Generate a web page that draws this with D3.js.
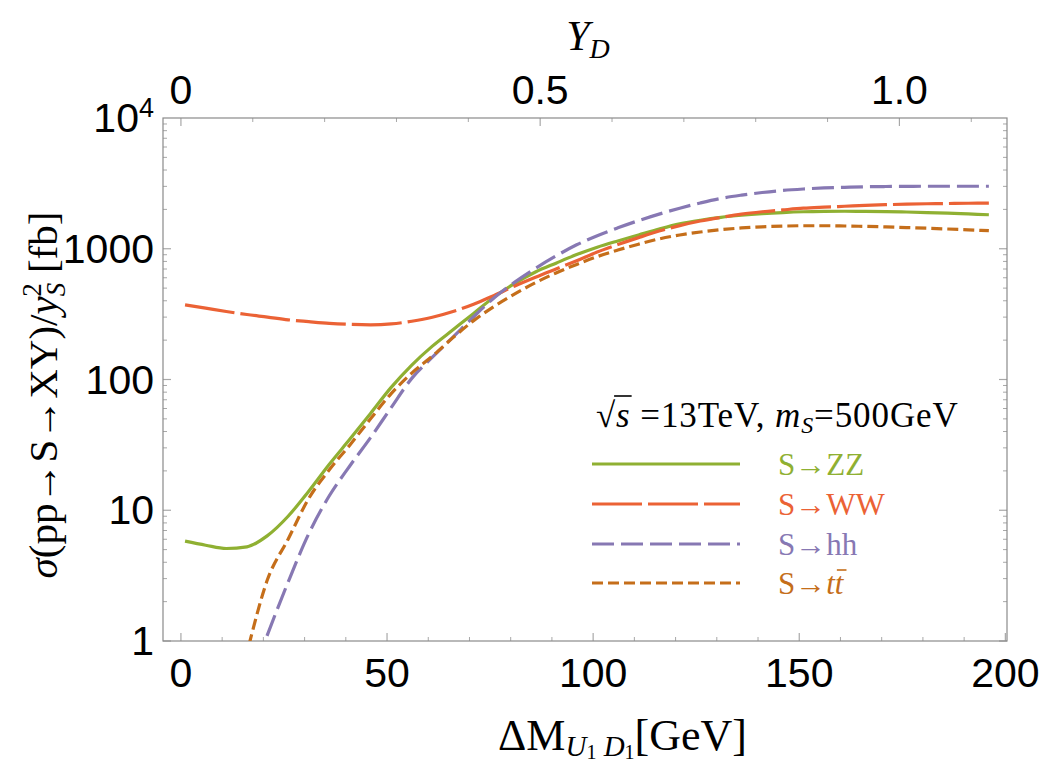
<!DOCTYPE html>
<html>
<head>
<meta charset="utf-8">
<script src="https://cdn.jsdelivr.net/npm/d3@7"></script>
<style>
  html, body { margin: 0; padding: 0; background: #fff; }
  svg { display: block; }
</style>
</head>
<body>
<svg id="chart" width="1042" height="763"></svg>
<script>
// ---------- data ----------
const deltaM = [1, 6, 11, 16, 21, 26, 31, 36, 41, 46, 51, 56, 61, 66, 71, 76, 81, 86, 91, 96,
  101, 106, 111, 116, 121, 126, 131, 136, 141, 146, 151, 156, 161, 166, 171, 176, 181, 186, 191, 196];

const sZZ = [5.8, 5.4, 5.1, 5.25, 6.4, 9.0, 14.0, 22.5, 35, 55, 87, 129, 180, 240, 320, 427, 543, 664, 776, 902,
  1028, 1148, 1274, 1413, 1549, 1652, 1738, 1803, 1854, 1892, 1919, 1932, 1936, 1932, 1923, 1910, 1892, 1871, 1845, 1820];

const sWW = [372, 351, 331, 314, 300, 286, 277, 269, 264, 262, 266, 279, 299, 331, 376, 440, 519, 605, 700, 809,
  944, 1076, 1216, 1365, 1503, 1629, 1738, 1841, 1919, 1982, 2042, 2080, 2113, 2148, 2173, 2193, 2208, 2218, 2228, 2234];

const sHH = [null, null, null, 0.42, 1.12, 2.82, 6.6, 12.9, 21.9, 35.9, 61, 102, 148, 211, 302, 422, 556, 708, 881, 1072,
  1259, 1445, 1641, 1841, 2042, 2239, 2427, 2570, 2692, 2793, 2864, 2917, 2951, 2979, 2992, 2999, 3006, 3006, 3006, 3006];

const sTT = [null, null, 0.18, 0.81, 2.95, 6.0, 12.3, 20.4, 31.6, 50, 78, 112, 151, 209, 282, 363, 452, 550, 653, 759,
  871, 977, 1084, 1189, 1274, 1343, 1400, 1442, 1472, 1489, 1500, 1500, 1493, 1483, 1469, 1452, 1435, 1416, 1396, 1374];

const seriesNames = ["ZZ", "WW", "hh", "tt"];
const seriesValues = [sZZ, sWW, sHH, sTT];
const seriesColors = ["#8FB032", "#EB6235", "#8778B3", "#C56E1A"];
const seriesDash = [null, "50,6", "22,7", "11,5"];

const xTicksMajor = [0, 50, 100, 150, 200];
const yTicksMajor = [1, 10, 100, 1000, 10000];
const yTickLabels = ["1", "10", "100", "1000", "10^4"];
const topTicksMajor = [0, 0.5, 1.0];
const topTickLabels = ["0", "0.5", "1.0"];
const ydToDeltaM = 174.3;   // Y_D = 1 corresponds to this ΔM on the shared axis

// ---------- layout ----------
const svg = d3.select("#chart");
const L = 163, R = 1007, T = 118, B = 641;
const x = d3.scaleLinear().domain([-4.35, 200.4]).range([L, R]);
const y = d3.scaleLog().domain([1, 1e4]).range([B, T]);
const xt = d3.scaleLinear().domain([0, 1]).range([x(0), x(ydToDeltaM)]);

const frameColor = "#8a8a8a", tickColor = "#a8a8a8";
const sans = "'Liberation Sans', Arial, sans-serif";
const serif = "'Liberation Serif', 'Times New Roman', serif";
const tickFont = 41;

svg.append("defs").append("clipPath").attr("id", "clip")
  .append("rect").attr("x", L).attr("y", T).attr("width", R - L).attr("height", B - T);

// ---------- ticks ----------
const g = svg.append("g");
d3.range(0, 201, 10).forEach(v => {
  const major = xTicksMajor.includes(v);
  g.append("line").attr("x1", x(v)).attr("x2", x(v)).attr("y1", B).attr("y2", B - (major ? 8 : 4))
    .attr("stroke", tickColor).attr("stroke-width", major ? 1.2 : 1);
});
d3.range(0, 1.15, 0.1).forEach(v => {
  const major = topTicksMajor.some(m => Math.abs(m - v) < 1e-6);
  g.append("line").attr("x1", xt(v)).attr("x2", xt(v)).attr("y1", T).attr("y2", T + (major ? 8 : 4))
    .attr("stroke", tickColor).attr("stroke-width", major ? 1.2 : 1);
});
for (let d = 1; d < 1e4; d *= 10) {
  for (let k = 1; k <= 9; k++) {
    const v = d * k, major = k === 1;
    [[L, 1], [R, -1]].forEach(([x0, s]) => {
      g.append("line").attr("x1", x0).attr("x2", x0 + s * (major ? 8 : 4)).attr("y1", y(v)).attr("y2", y(v))
        .attr("stroke", tickColor).attr("stroke-width", major ? 1.2 : 1);
    });
  }
}

svg.append("rect").attr("x", L).attr("y", T).attr("width", R - L).attr("height", B - T)
  .attr("fill", "none").attr("stroke", frameColor).attr("stroke-width", 1.2);

// tick labels
xTicksMajor.forEach(v => {
  svg.append("text").attr("x", x(v)).attr("y", B + 46).attr("text-anchor", "middle")
    .attr("font-family", sans).attr("font-size", tickFont).text(v);
});
topTicksMajor.forEach((v, i) => {
  svg.append("text").attr("x", xt(v)).attr("y", T - 14).attr("text-anchor", "middle")
    .attr("font-family", sans).attr("font-size", tickFont).text(topTickLabels[i]);
});
yTicksMajor.forEach((v, i) => {
  const t = svg.append("text").attr("x", 154).attr("y", y(v) + 14).attr("text-anchor", "end")
    .attr("font-family", sans).attr("font-size", tickFont);
  const lab = yTickLabels[i];
  if (lab.includes("^")) {
    const [b, e] = lab.split("^");
    t.append("tspan").text(b);
    t.append("tspan").attr("font-size", 27).attr("dy", -15).text(e);
  } else t.text(lab);
});

// ---------- curves ----------
const plot = svg.append("g").attr("clip-path", "url(#clip)");
seriesValues.forEach((vals, i) => {
  const pts = deltaM.map((d, j) => [d, vals[j]]).filter(p => p[1] != null);
  const line = d3.line().x(p => x(p[0])).y(p => y(p[1])).curve(d3.curveMonotoneX);
  plot.append("path").datum(pts).attr("d", line)
    .attr("fill", "none").attr("stroke", seriesColors[i]).attr("stroke-width", 3.2)
    .attr("stroke-dasharray", seriesDash[i]);
});

// ---------- axis titles ----------
svg.append("text").attr("x", 588).attr("y", 50).attr("text-anchor", "middle")
  .attr("font-family", serif).attr("font-size", 42).attr("font-style", "italic")
  .call(t => { t.append("tspan").text("Y"); t.append("tspan").attr("font-size", 28).attr("dy", 8).text("D"); });

const xt2 = svg.append("text").attr("x", 498).attr("y", 750).attr("text-anchor", "start")
  .attr("font-family", serif).attr("font-size", 44);
xt2.append("tspan").text("ΔM");
xt2.append("tspan").attr("font-size", 29).attr("font-style", "italic").attr("dy", 6).text("U");
xt2.append("tspan").attr("font-size", 20).attr("dy", 3).text("1");
xt2.append("tspan").attr("font-size", 29).attr("font-style", "italic").attr("dy", -3).text(" D");
xt2.append("tspan").attr("font-size", 20).attr("dy", 3).text("1");
xt2.append("tspan").attr("dy", -9).text("[GeV]");

const yt = svg.append("text").attr("transform", "translate(57,395) rotate(-90)").attr("text-anchor", "middle")
  .attr("font-family", serif).attr("font-size", 41);
yt.append("tspan").attr("font-style", "italic").text("σ");
yt.append("tspan").text("(pp→S→XY)/");
yt.append("tspan").attr("font-style", "italic").text("y");
yt.append("tspan").attr("font-size", 27).attr("font-style", "italic").attr("dy", 8).text("S");
yt.append("tspan").attr("font-size", 27).attr("dx", -14).attr("dy", -24).text("2");
yt.append("tspan").attr("dy", 16).text(" [fb]");

// ---------- legend ----------
const lg = svg.append("g");
const hdr = lg.append("text").attr("x", 596).attr("y", 427).attr("font-family", serif).attr("font-size", 35)
  .attr("letter-spacing", 0.9);
hdr.append("tspan").text("√");
hdr.append("tspan").attr("font-style", "italic").text("s");
hdr.append("tspan").text(" =13TeV, ");
hdr.append("tspan").attr("font-style", "italic").text("m");
hdr.append("tspan").attr("font-size", 24).attr("font-style", "italic").attr("dy", 6).text("S");
hdr.append("tspan").attr("dy", -6).text("=500GeV");
{
  const node = hdr.node();
  const r0 = node.getEndPositionOfChar(0);
  const s1 = node.getEndPositionOfChar(1);
  lg.append("line").attr("x1", r0.x - 2).attr("x2", s1.x + 1).attr("y1", 427 - 31).attr("y2", 427 - 31)
    .attr("stroke", "#000").attr("stroke-width", 1.6);
}

const legY = [464, 504, 544, 583];
seriesNames.forEach((n, i) => {
  lg.append("line").attr("x1", 592).attr("x2", 740).attr("y1", legY[i]).attr("y2", legY[i])
    .attr("stroke", seriesColors[i]).attr("stroke-width", 3.2).attr("stroke-dasharray", seriesDash[i]);
  const t = lg.append("text").attr("x", 778).attr("y", legY[i] + 11).attr("font-family", serif)
    .attr("font-size", 31).attr("fill", seriesColors[i]);
  if (n === "tt") {
    t.append("tspan").text("S→");
    t.append("tspan").attr("font-style", "italic").text("tt");
    const node = t.node();
    const a = node.getStartPositionOfChar(3), b = node.getEndPositionOfChar(3);
    lg.append("line").attr("x1", a.x + 2).attr("x2", b.x + 3)
      .attr("y1", legY[i] + 11 - 24).attr("y2", legY[i] + 11 - 24)
      .attr("stroke", seriesColors[3]).attr("stroke-width", 1.6);
  } else t.text("S→" + n);
});
</script>
</body>
</html>
